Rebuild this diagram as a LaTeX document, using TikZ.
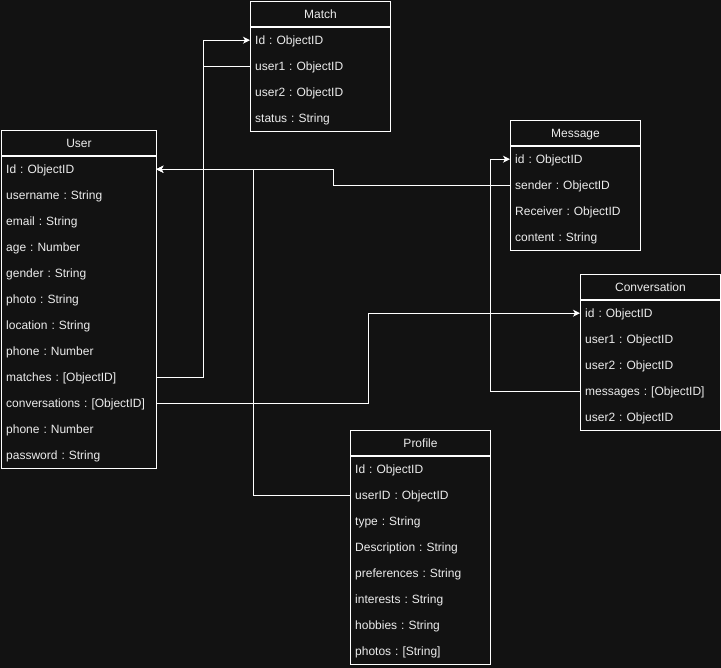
\documentclass[tikz,border=0pt]{standalone}
\usepackage{fontspec}
\setmainfont{Liberation Sans}
\usetikzlibrary{arrows.meta,calc}
\definecolor{bg}{RGB}{18,18,18}
\definecolor{fg}{RGB}{236,236,236}
\frenchspacing
\newcommand\erdtable[7]{% name, title, x, y, w, n, rows
  \pgfmathsetmacro\erdtw{#5-10}%
  \node[hdr, minimum width=#5pt] (#1) at (#3,#4) {#2};
  \foreach \t [count=\i] in {#7} {
    \node[rowcell, text width=\erdtw pt] (#1-\i) at (#3,{#4+26*\i}) {\t};
  }
  \draw[box] (#1-1.north west) rectangle (#1-#6.south east);
}
\begin{document}
\begin{tikzpicture}[x=1pt,y=-1pt,
  hdr/.style={draw=white, line width=1pt, fill=bg, text=fg, anchor=north west,
    minimum height=26pt, inner sep=0pt, font=\fontsize{12}{14}\selectfont\frenchspacing,
    text height=9.5pt, text depth=1.5pt},
  rowcell/.style={anchor=north west, minimum height=26pt, inner xsep=5pt, inner ysep=0pt,
    align=left, text=fg, font=\fontsize{12}{14}\selectfont\frenchspacing,
    text height=9.5pt, text depth=1.5pt},
  box/.style={draw=white, line width=1pt},
  conn/.style={draw=white, line width=1pt},
  arr/.style={-{Stealth[length=7pt,width=7pt,inset=2pt]}}
]
\fill[bg] (0,0) rectangle (721,668);
\useasboundingbox (0,0) rectangle (721,668);

\erdtable{match}{Match}{250}{1}{140}{4}{Id : ObjectID, user1 : ObjectID, user2 : ObjectID, status : String}
\erdtable{user}{User}{1}{130}{155}{12}{Id : ObjectID, username : String, email : String, age : Number, gender : String, photo : String, location : String, phone : Number, matches : [ObjectID], conversations : [ObjectID], phone : Number, password : String}
\erdtable{message}{Message}{510}{120}{130}{4}{id : ObjectID, sender : ObjectID, Receiver : ObjectID, content : String}
\erdtable{conv}{Conversation}{580}{274}{140}{5}{id : ObjectID, user1 : ObjectID, user2 : ObjectID, messages : [ObjectID], user2 : ObjectID}
\erdtable{profile}{Profile}{350}{430}{140}{8}{Id : ObjectID, userID : ObjectID, type : String, Description : String, preferences : String, interests : String, hobbies : String, photos : [String]}

% connectors
\draw[conn,arr] (user-9.east) -- ++(47,0) |- (match-1.west);
\draw[conn,arr] (match-2.west) -- ++(-47,0) |- (user-1.east);
\draw[conn,arr] (message-2.west) -- ++(-177,0) |- (user-1.east);
\draw[conn,arr] (profile-2.west) -- ++(-97,0) |- (user-1.east);
\draw[conn,arr] (user-10.east) -- ++(212.5,0) |- (conv-1.west);
\draw[conn,arr] (conv-4.west) -- ++(-90,0) |- (message-1.west);
\end{tikzpicture}
\end{document}
